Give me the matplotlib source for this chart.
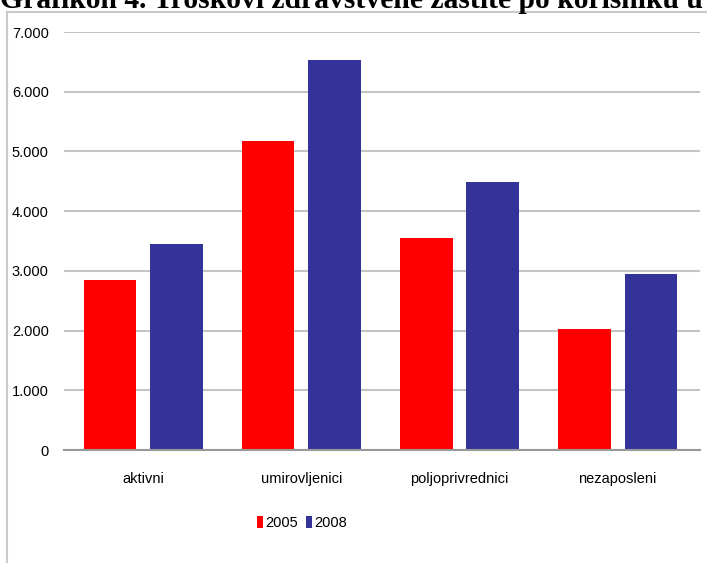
import numpy as np
import matplotlib
matplotlib.use("Agg")
import matplotlib.pyplot as plt
from matplotlib.lines import Line2D

categories = ['aktivni', 'umirovljenici', 'poljoprivrednici', 'nezaposleni']
years = ['2005', '2008']
costs_2005 = [2845, 5180, 3545, 2030]
costs_2008 = [3450, 6530, 4480, 2950]
yticks = [0, 1000, 2000, 3000, 4000, 5000, 6000, 7000]
ytick_labels = ['0', '1.000', '2.000', '3.000', '4.000', '5.000', '6.000', '7.000']

colors = ['#ff0000', '#333399']
grid_color = '#c4c4c4'

plt.rcParams['font.family'] = ['Liberation Sans', 'DejaVu Sans']

fig = plt.figure(figsize=(7.07, 5.63), dpi=100)

# outer chart frame (left and top edges are visible)
fig.add_artist(Line2D([7 / 707, 7 / 707], [0, 1 - 12 / 563], transform=fig.transFigure,
                      color='#c8c8c8', lw=1.5))
fig.add_artist(Line2D([7 / 707, 1], [1 - 12 / 563, 1 - 12 / 563], transform=fig.transFigure,
                      color='#c8c8c8', lw=1.5))

# caption, cut off at the top edge like in the source scan
fig.text(0.0, 1 - 8 / 563, 'Grafikon 4. Troškovi zdravstvene zaštite po korisniku u',
         family=['Liberation Serif', 'DejaVu Serif'], fontweight='bold', fontsize=21.3,
         va='baseline', ha='left')

ax = fig.add_axes([64 / 707, 1 - 450 / 563, 636 / 707, 418 / 563])

x = np.arange(len(categories))
w = 0.332
off = 0.21
ax.bar(x - off, costs_2005, width=w, color=colors[0], label=years[0], zorder=3)
ax.bar(x + off, costs_2008, width=w, color=colors[1], label=years[1], zorder=3)

ax.set_xlim(-0.5, 3.52)
ax.set_ylim(0, 7000)
ax.set_yticks(yticks)
ax.set_yticklabels(ytick_labels)
ax.set_xticks(x)
ax.set_xticklabels(categories)
ax.tick_params(axis='y', length=0, pad=11, labelsize=10.5)
ax.tick_params(axis='x', length=0, pad=16, labelsize=10.5)

ax.yaxis.grid(True, color=grid_color, lw=1.5, zorder=0)
ax.set_axisbelow(True)
for s in ['top', 'right', 'left']:
    ax.spines[s].set_visible(False)
ax.spines['bottom'].set_color('#999999')
ax.spines['bottom'].set_linewidth(1.5)
ax.spines['bottom'].set_zorder(4)

ax.legend(loc='center', bbox_to_anchor=(302 / 707, 1 - 523 / 563), bbox_transform=fig.transFigure,
          ncol=2, frameon=False, fontsize=10.5, handlelength=0.45, handleheight=0.9,
          handletextpad=0.15, columnspacing=0.5)

fig.savefig('out.png', dpi=100)
